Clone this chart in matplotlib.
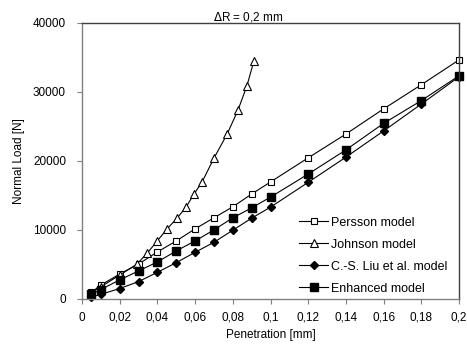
import matplotlib
matplotlib.use("Agg")
import matplotlib.pyplot as plt

# penetration [mm] and normal load [N]
penetration = [0.005, 0.01, 0.02, 0.03, 0.04, 0.05, 0.06, 0.07, 0.08, 0.09, 0.1,
               0.12, 0.14, 0.16, 0.18, 0.2]
persson = [900, 1950, 3550, 5000, 6750, 8350, 10100, 11700, 13300, 15150, 16900,
           20400, 23850, 27500, 31000, 34600]
enhanced = [600, 1300, 2700, 4000, 5300, 6900, 8350, 9950, 11700, 13150, 14700,
            18050, 21550, 25400, 28700, 32300]
liu = [200, 600, 1450, 2450, 3800, 5200, 6700, 8150, 9900, 11650, 13250,
       16850, 20500, 24300, 28200, 32150]

johnson_pen = [0.005, 0.01, 0.02, 0.029, 0.0345, 0.0398, 0.045, 0.0504, 0.0552,
               0.0594, 0.0637, 0.070, 0.077, 0.0828, 0.0875, 0.0912]
johnson = [850, 1700, 3400, 4950, 6550, 8300, 10050, 11650, 13250, 15150, 16900,
           20350, 23850, 27350, 30850, 34450]

xticks = [0, 0.02, 0.04, 0.06, 0.08, 0.1, 0.12, 0.14, 0.16, 0.18, 0.2]
xticklabels = ["0", "0,02", "0,04", "0,06", "0,08", "0,1", "0,12", "0,14", "0,16", "0,18", "0,2"]
yticks = [0, 10000, 20000, 30000, 40000]

plt.rcParams['font.family'] = ['Liberation Sans', 'DejaVu Sans']

W, H = 467, 352
fig = plt.figure(figsize=(W / 100, H / 100), dpi=100)
ax = fig.add_axes([82 / W, 1 - 298.5 / H, 377 / W, 275.8 / H])

kw = dict(color='black', lw=0.8, clip_on=False)
ax.plot(penetration, persson, marker='s', ms=5, mfc='white', mec='black', mew=0.8,
        label='Persson model', **kw)
ax.plot(johnson_pen, johnson, marker='^', ms=5.5, mfc='white', mec='black', mew=0.8,
        label='Johnson model', **kw)
ax.plot(penetration, liu, marker='D', ms=4, mfc='black', mec='black',
        label='C.-S. Liu et al. model', **kw)
ax.plot(penetration, enhanced, marker='s', ms=5.5, mfc='black', mec='black',
        label='Enhanced model', **kw)

ax.set_xlim(0, 0.2)
ax.set_ylim(0, 40000)
ax.set_xticks(xticks)
ax.set_xticklabels(xticklabels)
ax.set_yticks(yticks)
ax.tick_params(labelsize=8.5, length=3.5, width=0.8, color='#808080')
ax.tick_params(axis='x', pad=6)
ax.tick_params(axis='y', pad=8)

for side in ['left', 'bottom']:
    ax.spines[side].set_color('#808080')
for side in ['top', 'right']:
    ax.spines[side].set_color('#404040')
for s in ax.spines.values():
    s.set_linewidth(1.0)

ax.set_xlabel('Penetration [mm]', fontsize=8.5, labelpad=4)
ax.set_ylabel('Normal Load [N]', fontsize=8.5, labelpad=6)

fig.text(248 / W, 1 - 17 / H, r'$\Delta$R = 0,2 mm', ha='center', va='center', fontsize=8.5)

leg = ax.legend(loc='lower left', bbox_to_anchor=(293 / W, 1 - 301 / H),
                bbox_transform=fig.transFigure, frameon=False, fontsize=9,
                handlelength=2.3, handletextpad=0.25, labelspacing=0.8, borderpad=0)

fig.savefig('out.png', dpi=100)
